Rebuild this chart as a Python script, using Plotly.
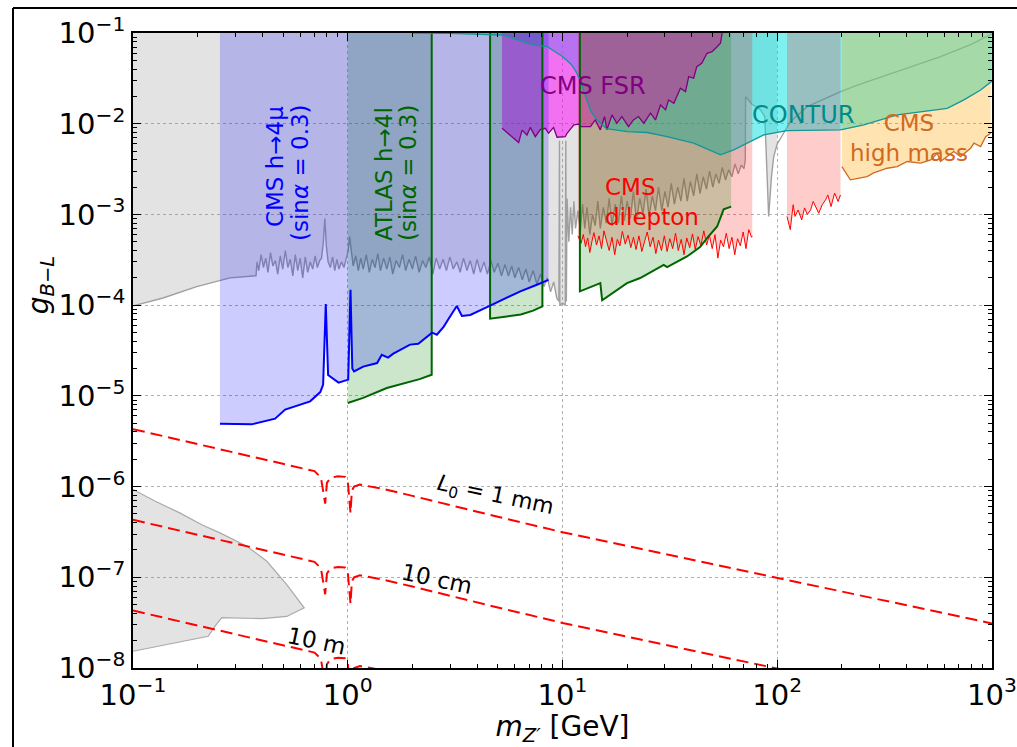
import numpy as np
import plotly.graph_objects as go

Y_TOP = 0.1

# ---------------- data ----------------
# grey limit curve (smooth low-mass part, noisy part, Upsilon and Z regions, high-mass tail)
grey_x = [0.1, 0.138, 0.198, 0.283, 0.374, 0.378, 0.385, 0.395, 0.405, 0.415, 0.425, 0.437, 0.448,
          0.46, 0.472, 0.485, 0.498, 0.512, 0.526, 0.54, 0.555, 0.57, 0.585, 0.6, 0.617, 0.634,
          0.651, 0.669, 0.687, 0.705, 0.722, 0.74, 0.755, 0.77, 0.782, 0.795, 0.81, 0.83, 0.85,
          0.87, 0.89, 0.91, 0.935, 0.96, 0.985, 1.005, 1.02, 1.04, 1.06, 1.09, 1.12, 1.15, 1.18,
          1.22, 1.26, 1.3, 1.34, 1.38, 1.42, 1.47, 1.52, 1.57, 1.62, 1.68, 1.74, 1.8, 1.86, 1.93,
          2.0, 2.07, 2.15, 2.23, 2.31, 2.4, 2.49, 2.58, 2.68, 2.78, 2.88, 2.99, 3.1, 3.22, 3.34,
          3.46, 3.59, 3.72, 3.86, 4.0, 4.15, 4.31, 4.47, 4.64, 4.81, 5.0, 5.2, 5.4, 5.6, 5.8, 6.0,
          6.25, 6.5, 6.75, 7.0, 7.3, 7.6, 7.9, 8.2, 8.5, 8.8, 9.1, 9.4, 9.62, 9.68, 9.72,
          10.0, 10.3, 10.36, 10.42, 10.5, 10.7, 10.9, 11.1, 11.3, 11.5, 11.8, 12.1, 12.4, 12.7,
          13.0, 13.4, 13.8, 14.2, 14.6, 15.0, 15.5, 16.0, 16.5, 17.0, 17.6, 18.2, 18.8, 19.4,
          20.0, 20.7, 21.4, 22.1, 22.9, 23.7, 24.5, 25.3, 26.2, 27.1, 28.0, 29.0, 30.0, 31.0,
          32.1, 33.2, 34.4, 35.6, 36.8, 38.1, 39.4, 40.8, 42.2, 43.7, 45.2, 46.8, 48.4, 50.1,
          51.8, 53.6, 55.5, 57.4, 59.4, 61.5, 63.6, 65.8, 68.0, 70.0, 71.0, 71.2, 76.0, 83.6,
          87.5, 91.2, 94.0, 96.3, 100.0, 107.0, 115.0, 138.0, 197.0, 240.0, 292.0, 400.0, 576.0,
          800.0, 968.0, 1000.0]
grey_y = [9.8e-5, 1.2e-4, 1.6e-4, 2.0e-4, 2.11e-4, 3.0e-4, 2.4e-4, 3.6e-4, 2.6e-4, 3.3e-4, 2.3e-4,
          3.8e-4, 2.7e-4, 3.1e-4, 2.2e-4, 3.5e-4, 2.5e-4, 4.0e-4, 2.6e-4, 3.2e-4, 2.1e-4, 3.6e-4,
          2.4e-4, 3.3e-4, 2.0e-4, 3.4e-4, 2.3e-4, 3.0e-4, 2.5e-4, 3.5e-4, 2.6e-4, 3.1e-4, 3.3e-4,
          5.0e-4, 9.0e-4, 4.5e-4, 3.0e-4, 2.6e-4, 3.4e-4, 2.4e-4, 3.2e-4, 2.5e-4, 3.0e-4, 2.6e-4,
          3.3e-4, 4.0e-4, 5.7e-4, 3.6e-4, 2.7e-4, 3.5e-4, 2.4e-4, 3.3e-4, 2.5e-4, 3.6e-4, 2.3e-4,
          3.2e-4, 2.6e-4, 3.7e-4, 2.4e-4, 3.3e-4, 2.5e-4, 3.4e-4, 2.2e-4, 3.1e-4, 2.6e-4, 3.6e-4,
          2.4e-4, 3.2e-4, 2.5e-4, 3.5e-4, 2.3e-4, 3.1e-4, 2.6e-4, 3.4e-4, 2.2e-4, 3.3e-4, 2.5e-4,
          3.2e-4, 2.4e-4, 3.4e-4, 2.5e-4, 3.0e-4, 2.3e-4, 3.3e-4, 2.4e-4, 3.1e-4, 2.2e-4, 3.2e-4,
          2.3e-4, 3.0e-4, 2.2e-4, 3.1e-4, 2.3e-4, 2.9e-4, 2.1e-4, 2.8e-4, 2.1e-4, 2.7e-4, 2.0e-4,
          2.6e-4, 1.9e-4, 2.5e-4, 1.8e-4, 2.4e-4, 1.7e-4, 2.2e-4, 1.6e-4, 2.0e-4, 1.4e-4, 1.8e-4,
          1.2e-4, 1.1e-4, 6.5e-3, 1.0e-4, 1.05e-4, 1.0e-4, 6.5e-3, 1.1e-4, 1.5e-3, 5.0e-4, 1.2e-3,
          6.0e-4, 1.4e-3, 7.0e-4, 1.1e-3, 6.5e-4, 1.3e-3, 7.0e-4, 1.2e-3, 6.0e-4, 1.0e-3, 7.5e-4,
          1.4e-3, 7.0e-4, 1.2e-3, 8.0e-4, 1.5e-3, 7.5e-4, 1.3e-3, 8.0e-4, 1.6e-3, 8.5e-4, 1.4e-3,
          9.0e-4, 1.8e-3, 8.5e-4, 1.5e-3, 1.0e-3, 1.9e-3, 9.5e-4, 1.6e-3, 1.1e-3, 2.0e-3, 1.1e-3,
          1.8e-3, 1.2e-3, 2.2e-3, 1.3e-3, 2.0e-3, 1.4e-3, 2.5e-3, 1.4e-3, 2.3e-3, 1.6e-3, 2.8e-3,
          1.7e-3, 2.6e-3, 1.9e-3, 3.0e-3, 2.0e-3, 2.8e-3, 2.2e-3, 3.3e-3, 2.4e-3, 3.1e-3, 2.6e-3,
          3.6e-3, 2.8e-3, 3.5e-3, 3.2e-3, 4.0e-3, 0.0199, 0.0165, 0.0142, 0.012, 9.5e-4, 2.6e-3,
          4.35e-3, 6.0e-3, 7.85e-3, 0.0105, 0.0154, 0.0226, 0.027, 0.0317, 0.041, 0.0548, 0.075,
          0.095, 0.098]
GREY_FILL_MAX = 100.0

# grey excluded island at low mass / small coupling
island_x = [0.1, 0.127, 0.166, 0.209, 0.254, 0.339, 0.42, 0.52, 0.627, 0.52, 0.398, 0.259, 0.241, 0.224, 0.1]
island_y = [9.3e-7, 6.9e-7, 5.1e-7, 3.8e-7, 3.09e-7, 2.2e-7, 1.5e-7, 8.3e-8, 4.6e-8, 3.7e-8, 3.5e-8,
            3.6e-8, 2.9e-8, 2.24e-8, 1.53e-8]

# CMS h -> 4 mu
cms4mu_x = [0.254, 0.357, 0.459, 0.511, 0.668, 0.745, 0.768, 0.79, 0.81, 0.906, 1.005, 1.03, 1.05, 1.07,
            1.18, 1.37, 1.44, 1.54, 1.63, 1.95, 2.13, 2.47, 2.6, 2.8, 2.94, 3.05, 3.22, 3.4, 3.72,
            4.45, 5.32, 6.36, 7.6, 8.61]
cms4mu_y = [4.94e-6, 4.85e-6, 5.6e-6, 7.05e-6, 8.7e-6, 1.1e-5, 1.33e-5, 1.03e-4, 1.7e-5, 1.4e-5,
            1.51e-5, 1.48e-4, 2.0e-5, 1.86e-5, 2.1e-5, 2.3e-5, 2.84e-5, 2.64e-5, 2.92e-5, 3.67e-5,
            3.76e-5, 4.97e-5, 4.72e-5, 5.8e-5, 7.0e-5, 8.0e-5, 9.8e-5, 7.6e-5, 7.8e-5, 9.5e-5,
            1.15e-4, 1.42e-4, 1.68e-4, 1.9e-4]

# ATLAS h -> 4l (three mass windows)
atlas_a_x = [1.0, 1.18, 1.52, 1.89, 2.16, 2.46]
atlas_a_y = [8.35e-6, 9.5e-6, 1.22e-5, 1.39e-5, 1.53e-5, 1.71e-5]
atlas_b_x = [4.6, 5.5, 6.4, 7.3, 8.06]
atlas_b_y = [7.1e-5, 7.5e-5, 7.9e-5, 8.7e-5, 9.7e-5]
atlas_c_x = [12.05, 15.0, 15.3, 19.96, 23.0, 29.6, 30.7, 38.0, 43.7, 47.1, 52.5, 56.3, 61.0]
atlas_c_y = [1.42e-4, 1.75e-4, 1.13e-4, 1.75e-4, 1.99e-4, 2.78e-4, 2.63e-4, 3.44e-4, 4.36e-4,
             5.48e-4, 7.36e-4, 1.14e-3, 1.22e-3]

# CMS FSR
fsr_x = [5.23, 5.71, 6.25, 6.48, 6.83, 7.08, 7.47, 7.88, 8.32, 8.61, 9.09, 9.43, 10.3, 10.5, 11.3,
         11.9, 12.1, 13.5, 14.2, 15.0, 15.7, 16.1, 17.0, 17.9, 18.9, 20.3, 21.4, 22.6, 23.9, 25.7,
         27.1, 28.6, 30.2, 31.2, 33.0, 35.4, 37.4, 38.7, 40.8, 42.2, 44.5, 47.1, 49.7, 52.5, 54.4, 55.4]
fsr_y = [8.9e-3, 7.5e-3, 6.2e-3, 8.5e-3, 7.5e-3, 9.1e-3, 7.2e-3, 8.6e-3, 8.9e-3, 7.85e-3, 9.1e-3,
         7.1e-3, 7.2e-3, 7.85e-3, 9.7e-3, 9.9e-3, 9.3e-3, 9.3e-3, 0.011, 8.55e-3, 0.012, 8.55e-3,
         0.0125, 0.0101, 0.012, 9.3e-3, 0.011, 0.012, 0.0101, 0.0131, 0.011, 0.0161, 0.0142, 0.0183,
         0.0168, 0.0246, 0.0226, 0.033, 0.0317, 0.0426, 0.0463, 0.0597, 0.0622, 0.0706, 0.077, 0.1]

# CMS dilepton (below and above the Z window)
dil1_x = [11.8, 12.2, 12.5, 12.8, 13.1, 13.4, 13.7, 14.0, 14.4, 14.8, 15.2, 15.6, 16.0, 16.5, 17.0,
          17.5, 18.0, 18.5, 19.0, 19.6, 20.2, 20.8, 21.4, 22.0, 22.7, 23.4, 24.1, 24.8, 25.6, 26.4,
          27.2, 28.0, 28.9, 29.8, 30.7, 31.6, 32.6, 33.6, 34.6, 35.7, 36.8, 37.9, 39.1, 40.3, 41.5,
          42.8, 44.1, 45.5, 46.9, 48.3, 49.8, 51.3, 52.9, 54.5, 56.2, 57.9, 59.7, 61.5, 63.4, 65.3,
          67.3, 69.4, 71.5, 73.7, 75.9, 76.5]
dil1_y = [5.8e-4, 4.8e-4, 6.0e-4, 4.4e-4, 5.5e-4, 3.8e-4, 5.0e-4, 6.3e-4, 4.6e-4, 5.8e-4, 4.2e-4,
          6.6e-4, 5.2e-4, 4.0e-4, 5.6e-4, 3.6e-4, 5.3e-4, 4.5e-4, 6.5e-4, 4.7e-4, 5.9e-4, 4.3e-4,
          5.6e-4, 4.1e-4, 5.8e-4, 3.9e-4, 5.0e-4, 6.4e-4, 4.4e-4, 5.6e-4, 3.7e-4, 5.2e-4, 4.0e-4,
          5.8e-4, 3.9e-4, 5.4e-4, 4.2e-4, 6.2e-4, 4.0e-4, 5.3e-4, 3.6e-4, 5.5e-4, 4.3e-4, 6.1e-4,
          4.1e-4, 5.7e-4, 4.5e-4, 6.6e-4, 4.6e-4, 5.9e-4, 4.2e-4, 6.0e-4, 3.3e-4, 5.2e-4, 4.4e-4,
          6.2e-4, 4.2e-4, 5.6e-4, 3.6e-4, 5.4e-4, 4.5e-4, 6.4e-4, 4.2e-4, 6.8e-4, 5.6e-4, 5.8e-4]
dil2_x = [111, 115, 118.6, 121, 125, 130, 134, 138, 143, 147, 156, 162, 168, 172, 178, 185, 192, 197]
dil2_y = [9.5e-4, 6.8e-4, 1.28e-3, 9.5e-4, 1.12e-3, 8.7e-4, 1.18e-3, 1.0e-3, 1.12e-3, 1.39e-3,
          1.03e-3, 1.28e-3, 1.45e-3, 1.64e-3, 1.22e-3, 1.72e-3, 1.39e-3, 1.64e-3]

# CMS high mass
hm_x = [200, 219, 262, 281, 325, 362, 403, 465, 518, 556, 576, 664, 714, 795, 824, 885, 934, 986]
hm_y = [3.37e-3, 2.41e-3, 2.61e-3, 2.87e-3, 3.23e-3, 3.37e-3, 3.83e-3, 3.67e-3, 3.99e-3, 4.73e-3,
        3.83e-3, 4.93e-3, 4.34e-3, 5.37e-3, 6.1e-3, 5.6e-3, 7.2e-3, 7.85e-3]

# CONTUR
contur_x = [2.0, 3.0, 5.3, 7.3, 8.5, 10.0, 11.0, 11.6, 12.1, 12.6, 13.0, 13.6, 14.5, 16.0, 20.0,
            24.8, 30.7, 40.8, 54.4, 62.7, 72.4, 86.5, 111, 148, 197, 253, 362, 619, 740, 885, 1000]
contur_y = [0.1, 0.099, 0.095, 0.0738, 0.0706, 0.055, 0.045, 0.037, 0.03, 0.022, 0.018, 0.0135,
            0.011, 0.0088, 0.0082, 0.008, 0.0072, 0.0061, 0.00453, 0.00514, 0.0061, 0.00753, 0.0084,
            0.00855, 0.00855, 0.0097, 0.0125, 0.0148, 0.0183, 0.0235, 0.0295]

# decay-length contours
life_x = [0.1, 0.2, 0.3, 0.45, 0.6, 0.7, 0.75, 0.77, 0.785, 0.80, 0.83, 0.9, 0.97, 1.0, 1.015, 1.03,
          1.045, 1.07, 1.14, 1.47, 2.0, 3.0, 5.0, 10.0, 30.0, 100.0, 300.0, 1000.0]
life_1mm_y = [4.3e-6, 2.95e-6, 2.35e-6, 1.9e-6, 1.62e-6, 1.48e-6, 1.26e-6, 9.0e-7, 6.5e-7, 1.1e-6,
              1.25e-6, 1.3e-6, 1.28e-6, 1.15e-6, 8.0e-7, 5.1e-7, 9.0e-7, 1.0e-6, 1.05e-6, 9.4e-7,
              7.9e-7, 6.2e-7, 4.65e-7, 3.14e-7, 1.81e-7, 9.9e-8, 5.7e-8, 3.1e-8]
life_10cm_y = [4.3e-7, 2.95e-7, 2.35e-7, 1.9e-7, 1.62e-7, 1.48e-7, 1.26e-7, 9.0e-8, 6.5e-8, 1.1e-7,
               1.25e-7, 1.3e-7, 1.28e-7, 1.15e-7, 8.0e-8, 5.1e-8, 9.0e-8, 1.0e-7, 1.05e-7, 9.4e-8,
               7.9e-8, 6.2e-8, 4.65e-8, 3.14e-8, 1.81e-8, 9.9e-9, 5.7e-9, 3.1e-9]
life_10m_y = [4.3e-8, 2.95e-8, 2.35e-8, 1.9e-8, 1.62e-8, 1.48e-8, 1.26e-8, 9.0e-9, 6.5e-9, 1.1e-8,
              1.25e-8, 1.3e-8, 1.28e-8, 1.15e-8, 8.0e-9, 5.1e-9, 9.0e-9, 1.0e-8, 1.05e-8, 9.4e-9,
              7.9e-9, 6.2e-9, 4.65e-9, 3.14e-9, 1.81e-9, 9.9e-10, 5.7e-10, 3.1e-10]

x_tick_vals = [0.1, 1, 10, 100, 1000]
x_tick_text = ["10<sup>−1</sup>", "10<sup>0</sup>", "10<sup>1</sup>", "10<sup>2</sup>", "10<sup>3</sup>"]
y_tick_vals = [1e-8, 1e-7, 1e-6, 1e-5, 1e-4, 1e-3, 1e-2, 1e-1]
y_tick_text = ["10<sup>−8</sup>", "10<sup>−7</sup>", "10<sup>−6</sup>", "10<sup>−5</sup>",
               "10<sup>−4</sup>", "10<sup>−3</sup>", "10<sup>−2</sup>", "10<sup>−1</sup>"]

FONT = "DejaVu Sans"


def upper_band(xs, ys):
    """Closed polygon from a limit curve up to the top of the plot."""
    return list(xs) + [xs[-1], xs[0]], list(ys) + [Y_TOP, Y_TOP]


fig = go.Figure()


def add_fill(xs, ys, color):
    fig.add_trace(go.Scatter(x=xs, y=ys, mode="lines", fill="toself", fillcolor=color,
                             line=dict(width=0), hoverinfo="skip", showlegend=False))


def add_line(xs, ys, color, width, dash="solid"):
    fig.add_trace(go.Scatter(x=xs, y=ys, mode="lines", line=dict(color=color, width=width, dash=dash),
                             hoverinfo="skip", showlegend=False))


# grey region: filled above its curve up to the Z peak
gfx = [x for x in grey_x if x <= GREY_FILL_MAX]
gfy = grey_y[:len(gfx)]
add_fill(*upper_band(gfx, gfy), "rgba(128,128,128,0.22)")
add_line(grey_x, grey_y, "rgb(160,160,160)", 1.4)

# low-mass island
fig.add_trace(go.Scatter(x=island_x, y=island_y, mode="lines", fill="toself",
                         fillcolor="rgba(128,128,128,0.22)", line=dict(color="rgb(170,170,170)", width=1.2),
                         hoverinfo="skip", showlegend=False))

# CONTUR
add_fill(*upper_band(contur_x, contur_y), "rgba(0,225,225,0.5)")
# CMS FSR
add_fill(*upper_band(fsr_x, fsr_y), "rgba(255,0,255,0.5)")
# CMS dilepton
add_fill(*upper_band(dil1_x, dil1_y), "rgba(255,0,0,0.2)")
add_fill(*upper_band(dil2_x, dil2_y), "rgba(255,0,0,0.2)")
# CMS high mass
add_fill(*upper_band(hm_x, hm_y), "rgba(255,165,0,0.3)")
# ATLAS h -> 4l
for ax_, ay_ in [(atlas_a_x, atlas_a_y), (atlas_b_x, atlas_b_y), (atlas_c_x, atlas_c_y)]:
    add_fill(*upper_band(ax_, ay_), "rgba(0,128,0,0.2)")
# CMS h -> 4 mu
add_fill(*upper_band(cms4mu_x, cms4mu_y), "rgba(0,0,255,0.2)")

# boundary curves
add_line(fsr_x, fsr_y, "purple", 1.3)
add_line(dil1_x, dil1_y, "red", 1.0)
add_line(dil2_x, dil2_y, "red", 1.0)
add_line(hm_x, hm_y, "rgb(210,105,30)", 1.3)
add_line(atlas_a_x + [atlas_a_x[-1]], atlas_a_y + [Y_TOP], "darkgreen", 2)
add_line([atlas_b_x[0]] + atlas_b_x + [atlas_b_x[-1]], [Y_TOP] + atlas_b_y + [Y_TOP], "darkgreen", 2)
add_line([atlas_c_x[0]] + atlas_c_x, [Y_TOP] + atlas_c_y, "darkgreen", 2)
add_line(cms4mu_x, cms4mu_y, "blue", 2)
add_line(contur_x, contur_y, "rgb(20,150,150)", 1.3)

# decay-length contours
for ly in (life_1mm_y, life_10cm_y, life_10m_y):
    add_line(life_x, ly, "red", 2, dash="12px,6px")


def note(x, y, text, color, size=24, angle=0, xanchor="center", align="center"):
    fig.add_annotation(x=np.log10(x), y=np.log10(y), text=text, showarrow=False, textangle=angle,
                       xanchor=xanchor, yanchor="middle", align=align,
                       font=dict(family=FONT, size=size, color=color))


note(0.459, 3.34e-3, "CMS h→4μ", "blue", 23, -90)
note(0.600, 2.87e-3, "(sin<i>α</i> = 0.3)", "blue", 23, -90)
note(1.478, 2.8e-3, "ATLAS h→4l", "darkgreen", 23, -90)
note(1.912, 2.87e-3, "(sin<i>α</i> = 0.3)", "darkgreen", 23, -90)
note(13.9, 0.026, "CMS FSR", "purple", 24)
note(132, 0.0125, "CONTUR", "rgb(0,139,139)", 24)
note(15.5, 1.38e-3, "CMS<br>dilepton", "red", 23, xanchor="left", align="left")
note(410, 6.98e-3, "CMS<br>high mass", "rgb(210,105,30)", 23)
note(4.86, 7.76e-7, "<i>L</i><sub>0</sub> = 1 mm", "black", 22, 12)
note(2.61, 9.46e-8, "10 cm", "black", 23, 12)
note(0.713, 1.96e-8, "10 m", "black", 23, 12)

minor_x = [m * 10.0 ** e for e in range(-1, 3) for m in range(2, 10)]
minor_y = [m * 10.0 ** e for e in range(-8, -1) for m in range(2, 10)]

axis_common = dict(showline=True, linecolor="black", linewidth=1.6, mirror="ticks", ticks="inside",
                   ticklen=8, tickwidth=1.3, tickcolor="black", showgrid=True, gridcolor="#b0b0b0",
                   griddash="dot", gridwidth=1, zeroline=False, automargin=False,
                   tickfont=dict(family=FONT, size=29, color="black"))

fig.update_xaxes(type="log", range=[-1, 3], tickmode="array", tickvals=x_tick_vals, ticktext=x_tick_text,
                 minor=dict(tickmode="array", tickvals=minor_x, ticks="inside", ticklen=4, tickcolor="black",
                            showgrid=False),
                 title=dict(text="<i>m</i><sub><i>Z′</i></sub> [GeV]", standoff=6,
                            font=dict(family=FONT, size=28, color="black")),
                 **axis_common)
fig.update_yaxes(type="log", range=[-8, -1], tickmode="array", tickvals=y_tick_vals, ticktext=y_tick_text,
                 minor=dict(tickmode="array", tickvals=minor_y, ticks="inside", ticklen=4, tickcolor="black",
                            showgrid=False),
                 **axis_common)

# y-axis label
fig.add_annotation(xref="paper", yref="paper", x=-0.108, y=0.603, text="<i>g</i><sub><i>B</i>−<i>L</i></sub>",
                   showarrow=False, textangle=-90, xanchor="center", yanchor="middle",
                   font=dict(family=FONT, size=28, color="black"))

# outer frame of the panel
fig.add_shape(type="line", xref="paper", yref="paper", x0=-0.1397, x1=-0.1397, y0=-0.13, y1=1.0394,
              line=dict(color="black", width=2))
fig.add_shape(type="line", xref="paper", yref="paper", x0=-0.1397, x1=1.03, y0=1.0394, y1=1.0394,
              line=dict(color="black", width=2))

fig.update_layout(width=1017, height=747, margin=dict(l=133, r=25, t=33, b=79),
                  paper_bgcolor="white", plot_bgcolor="white", hovermode=False,
                  font=dict(family=FONT))

fig.write_html("out.html")
